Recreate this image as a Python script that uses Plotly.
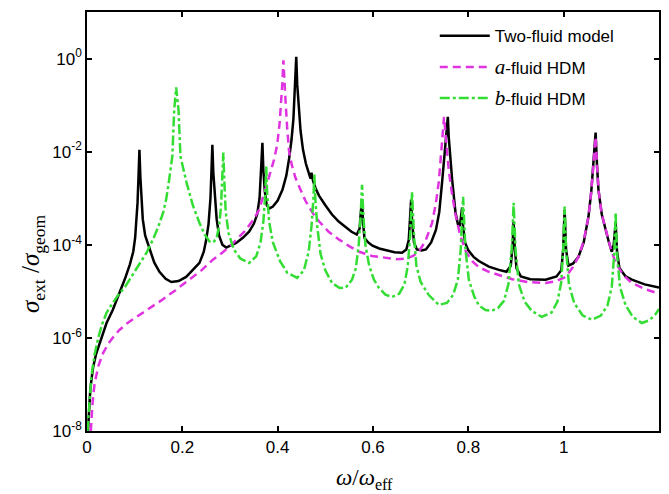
import plotly.graph_objects as go

# ---- data ----
# y values are the decade exponents (log10 of sigma_ext / sigma_geom)
two_fluid_x = [0.002, 0.004, 0.007, 0.010, 0.013, 0.019, 0.026, 0.034, 0.041, 0.054, 0.062, 0.070, 0.080, 0.090,
               0.097, 0.101, 0.104, 0.106, 0.108, 0.110, 0.112, 0.114, 0.117, 0.122, 0.131, 0.141, 0.152, 0.165,
               0.177, 0.192, 0.208, 0.222, 0.236, 0.245, 0.250, 0.255, 0.259, 0.261, 0.263, 0.265, 0.268, 0.272,
               0.277, 0.284, 0.292, 0.302, 0.313, 0.327, 0.340, 0.350, 0.357, 0.362, 0.365, 0.368, 0.370, 0.373,
               0.377, 0.383, 0.390, 0.400, 0.410, 0.418, 0.424, 0.429, 0.433, 0.436, 0.439, 0.441, 0.444, 0.448,
               0.453, 0.459, 0.465, 0.469, 0.471, 0.474, 0.480, 0.487, 0.500, 0.514, 0.528, 0.543, 0.555, 0.566,
               0.572, 0.574, 0.577, 0.579, 0.582, 0.590, 0.599, 0.613, 0.627, 0.645, 0.661, 0.670, 0.675, 0.678,
               0.680, 0.682, 0.686, 0.692, 0.702, 0.711, 0.722, 0.732, 0.739, 0.745, 0.750, 0.754, 0.757, 0.759,
               0.762, 0.766, 0.773, 0.778, 0.782, 0.785, 0.787, 0.789, 0.793, 0.800, 0.811, 0.822, 0.843, 0.864,
               0.880, 0.889, 0.893, 0.895, 0.897, 0.901, 0.910, 0.930, 0.962, 0.985, 0.995, 0.999, 1.002, 1.005,
               1.010, 1.020, 1.031, 1.042, 1.052, 1.058, 1.063, 1.067, 1.070, 1.073, 1.080, 1.088, 1.095, 1.101,
               1.105, 1.109, 1.112, 1.117, 1.130, 1.143, 1.170, 1.200]
two_fluid_exp = [-8.0, -7.55, -7.1, -6.85, -6.62, -6.35, -6.12, -5.88, -5.68, -5.40, -5.2, -4.98, -4.72, -4.42,
                 -4.15, -3.85, -3.5, -3.1, -2.55, -1.96, -2.55, -3.05, -3.45, -3.8, -4.1, -4.38, -4.58, -4.73,
                 -4.80, -4.78, -4.69, -4.55, -4.39, -4.15, -3.9, -3.55, -3.0, -2.45, -1.85, -2.45, -3.0, -3.45,
                 -3.8, -4.0, -4.06, -4.02, -3.96, -3.85, -3.72, -3.55, -3.35, -3.0, -2.45, -1.81, -2.4, -2.85,
                 -3.15, -3.22, -3.18, -3.05, -2.82, -2.52, -2.15, -1.75, -1.3, -0.75, 0.04, -0.55, -1.1, -1.55,
                 -1.95, -2.25, -2.45, -2.58, -2.45, -2.62, -2.8, -2.95, -3.15, -3.35, -3.5, -3.63, -3.72, -3.78,
                 -3.65, -3.35, -3.03, -3.5, -3.85, -3.95, -4.02, -4.08, -4.12, -4.16, -4.17, -4.1, -3.9, -3.5,
                 -3.03, -3.5, -3.95, -4.1, -4.12, -4.1, -3.95, -3.68, -3.3, -2.65, -2.0, -1.55, -1.25, -1.7,
                 -2.1, -2.6, -3.3, -3.55, -3.6, -3.4, -3.2, -3.6, -3.95, -4.12, -4.26, -4.35, -4.47, -4.54,
                 -4.58, -4.45, -4.0, -3.5, -4.0, -4.5, -4.68, -4.74, -4.75, -4.68, -4.55, -4.1, -3.25, -4.1,
                 -4.45, -4.4, -4.26, -3.95, -3.40, -2.85, -2.11, -1.59, -2.3, -2.82, -3.35, -3.68, -3.95, -4.15,
                 -4.0, -3.53, -4.15, -4.5, -4.68, -4.75, -4.85, -4.92]

a_fluid_x = [0.008, 0.010, 0.012, 0.016, 0.020, 0.024, 0.034, 0.045, 0.056, 0.068, 0.085, 0.104, 0.130, 0.158,
             0.185, 0.215, 0.240, 0.264, 0.285, 0.305, 0.330, 0.350, 0.361, 0.370, 0.378, 0.386, 0.393, 0.399,
             0.404, 0.407, 0.410, 0.412, 0.414, 0.417, 0.420, 0.424, 0.430, 0.437, 0.445, 0.458, 0.473, 0.487,
             0.507, 0.529, 0.550, 0.571, 0.598, 0.627, 0.650, 0.669, 0.684, 0.696, 0.710, 0.724, 0.732, 0.738,
             0.743, 0.746, 0.749, 0.752, 0.755, 0.759, 0.765, 0.773, 0.783, 0.795, 0.808, 0.822, 0.843, 0.864,
             0.892, 0.925, 0.962, 0.985, 1.004, 1.018, 1.031, 1.042, 1.052, 1.058, 1.063, 1.067, 1.070, 1.073,
             1.080, 1.088, 1.098, 1.109, 1.125, 1.143, 1.170, 1.200]
a_fluid_exp = [-8.0, -7.6, -7.35, -6.97, -6.75, -6.6, -6.32, -6.12, -5.97, -5.83, -5.68, -5.55, -5.38, -5.18,
               -4.98, -4.75, -4.55, -4.32, -4.16, -3.98, -3.72, -3.45, -3.25, -2.95, -2.65, -2.4, -2.15, -1.85,
               -1.4, -1.0, -0.5, -0.04, -0.5, -1.0, -1.5, -2.0, -2.3, -2.55, -2.75, -3.05, -3.31, -3.5,
               -3.72, -3.89, -4.03, -4.15, -4.24, -4.28, -4.31, -4.3, -4.24, -4.15, -3.92, -3.53, -3.1, -2.65,
               -2.1, -1.65, -1.25, -1.65, -2.05, -2.4, -2.85, -3.35, -3.8, -4.15, -4.35, -4.48, -4.58, -4.65,
               -4.74, -4.8, -4.82, -4.78, -4.69, -4.5, -4.26, -3.92, -3.40, -2.85, -2.15, -1.68, -2.3, -2.82,
               -3.35, -3.68, -4.05, -4.39, -4.65, -4.82, -4.95, -5.05]

b_fluid_x = [0.001, 0.003, 0.006, 0.009, 0.016, 0.024, 0.032, 0.041, 0.052, 0.064, 0.080, 0.095, 0.110, 0.125,
             0.140, 0.150, 0.160, 0.166, 0.171, 0.175, 0.179, 0.183, 0.187, 0.192, 0.196, 0.209, 0.222, 0.236,
             0.247, 0.257, 0.265, 0.272, 0.277, 0.281, 0.284, 0.286, 0.288, 0.291, 0.297, 0.308, 0.322, 0.340,
             0.355, 0.364, 0.370, 0.374, 0.376, 0.378, 0.382, 0.390, 0.405, 0.420, 0.441, 0.455, 0.465, 0.471,
             0.475, 0.477, 0.479, 0.483, 0.490, 0.500, 0.514, 0.530, 0.543, 0.556, 0.564, 0.570, 0.574, 0.577,
             0.580, 0.584, 0.592, 0.602, 0.612, 0.626, 0.640, 0.655, 0.666, 0.673, 0.678, 0.682, 0.686, 0.691,
             0.700, 0.717, 0.738, 0.755, 0.768, 0.778, 0.784, 0.789, 0.794, 0.801, 0.812, 0.822, 0.836, 0.849,
             0.863, 0.875, 0.884, 0.891, 0.895, 0.899, 0.906, 0.918, 0.933, 0.954, 0.975, 0.987, 0.995, 0.999,
             1.002, 1.005, 1.011, 1.022, 1.040, 1.059, 1.078, 1.092, 1.101, 1.106, 1.109, 1.112, 1.118, 1.130,
             1.145, 1.164, 1.180, 1.192, 1.200]
b_fluid_exp = [-8.0, -7.7, -7.2, -6.84, -6.35, -5.98, -5.7, -5.46, -5.28, -5.1, -4.9, -4.65, -4.42, -4.17,
               -3.85, -3.6, -3.3, -3.03, -2.7, -2.4, -2.1, -1.1, -0.62, -1.1, -2.1, -2.67, -3.15, -3.53,
               -3.78, -3.93, -3.95, -3.85, -3.6, -3.2, -2.6, -2.02, -2.6, -3.3, -3.75, -4.1, -4.3, -4.39,
               -4.25, -3.95, -3.5, -2.9, -2.32, -2.9, -3.5, -3.95, -4.35, -4.6, -4.71, -4.55, -4.15, -3.6,
               -3.0, -2.49, -3.0, -3.6, -4.2, -4.55, -4.82, -4.93, -4.92, -4.75, -4.5, -4.0, -3.4, -2.71,
               -3.4, -4.0, -4.45, -4.75, -4.92, -5.07, -5.12, -5.05, -4.85, -4.45, -3.8, -2.86, -3.8, -4.45,
               -4.8, -5.08, -5.29, -5.25, -5.08, -4.75, -4.1, -2.97, -4.1, -4.75, -5.1, -5.3, -5.4, -5.42,
               -5.35, -5.2, -4.85, -4.1, -3.10, -4.1, -4.85, -5.22, -5.42, -5.55, -5.45, -5.22, -4.8, -4.1,
               -3.18, -4.1, -4.85, -5.25, -5.52, -5.61, -5.52, -5.3, -4.9, -4.2, -3.31, -4.2, -4.9, -5.3,
               -5.55, -5.68, -5.62, -5.5, -5.38]

x_tick_vals = [0, 0.2, 0.4, 0.6, 0.8, 1]
x_tick_text = ["0", "0.2", "0.4", "0.6", "0.8", "1"]
y_tick_vals = [-8, -6, -4, -2, 0]
y_tick_text = ["10<sup>-8</sup>", "10<sup>-6</sup>", "10<sup>-4</sup>", "10<sup>-2</sup>", "10<sup>0</sup>"]

SANS = "Liberation Sans, Arial, sans-serif"
SERIF = "Liberation Serif, Times New Roman, serif"
MAGENTA = "#E033E0"
GREEN = "#33DD33"

fig = go.Figure()
fig.add_trace(go.Scatter(x=two_fluid_x, y=two_fluid_exp, mode="lines", name="Two-fluid model",
                         legendgroup="g1", line=dict(color="black", width=2.5)))
fig.add_trace(go.Scatter(x=a_fluid_x, y=a_fluid_exp, mode="lines",
                         name="<span style=\"font-family:'Liberation Serif'; font-size:21px\"><i>a</i></span>-fluid HDM",
                         legendgroup="g2", line=dict(color=MAGENTA, width=2.5, dash="8px,5px")))
fig.add_trace(go.Scatter(x=b_fluid_x, y=b_fluid_exp, mode="lines",
                         name="<span style=\"font-family:'Liberation Serif'; font-size:21px\"><i>b</i></span>-fluid HDM",
                         legendgroup="g3", line=dict(color=GREEN, width=2.5, dash="10px,3px,3px,3px")))

axis_common = dict(showline=True, linecolor="black", linewidth=1.5, mirror="ticks",
                   ticks="inside", ticklen=5, tickwidth=1.5, tickcolor="black",
                   showgrid=False, zeroline=False,
                   tickfont=dict(family=SANS, size=17, color="black"))

fig.update_xaxes(range=[0, 1.2], tickvals=x_tick_vals, ticktext=x_tick_text, **axis_common)
fig.update_yaxes(range=[-8, 1], tickvals=y_tick_vals, ticktext=y_tick_text, **axis_common)

fig.update_layout(
    width=669, height=494,
    margin=dict(l=87, r=8, t=12, b=63),
    paper_bgcolor="white", plot_bgcolor="white",
    showlegend=True,
    legend=dict(x=0.608, y=0.985, xanchor="left", yanchor="top",
                bgcolor="rgba(0,0,0,0)", borderwidth=0,
                font=dict(family=SANS, size=17, color="black"),
                itemwidth=50, tracegroupgap=6),
    annotations=[
        dict(text="<i>ω</i>/<i>ω</i><sub>eff</sub>", xref="paper", yref="paper",
             x=0.485, y=-0.115, xanchor="center", yanchor="middle", showarrow=False,
             font=dict(family=SERIF, size=23, color="black")),
        dict(text="<i>σ</i><sub>ext</sub> /<i>σ</i><sub>geom</sub>", xref="paper", yref="paper",
             x=-0.095, y=0.40, xanchor="center", yanchor="middle", textangle=-90, showarrow=False,
             font=dict(family=SERIF, size=25, color="black")),
    ],
)

fig.write_html("out.html")
